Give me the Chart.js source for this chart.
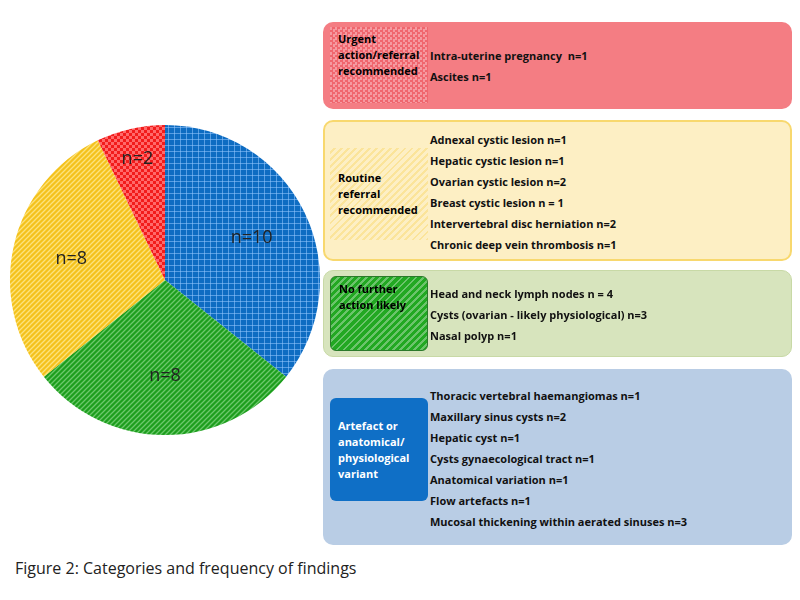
<!DOCTYPE html>
<html>
<head>
<meta charset="utf-8">
<script src="https://cdn.jsdelivr.net/npm/chart.js@4"></script>
<style>
  body { margin: 0; width: 800px; height: 600px; background: #fff; position: relative; font-family: "Open Sans", sans-serif; overflow: hidden; }
  #pieWrap { position: absolute; left: 0; top: 115px; width: 330px; height: 330px; }
  .box { position: absolute; left: 323px; width: 469px; border-radius: 10px; box-sizing: border-box; }
  .lab { position: absolute; left: 7px; width: 98px; box-sizing: border-box; font-size: 11px; font-weight: bold; line-height: 16px; padding: 4px 8px; display: flex; align-items: center; }
  .items { position: absolute; left: 107px; font-size: 11px; font-weight: bold; line-height: 21px; color: #111; }
  #caption { position: absolute; left: 15px; top: 557px; font-size: 16px; color: #222; }
</style>
</head>
<body>
<div id="pieWrap"><canvas id="pieChart" width="330" height="330"></canvas></div>

<div class="box" style="top:22px;height:87px;background:#f47d83;">
  <div class="lab" style="top:5px;height:76px;align-items:flex-start;background:repeating-conic-gradient(#f0666e 0 25%, #f59aa0 0 50%) 0 0/5px 5px;">Urgent action/referral recommended</div>
  <div class="items" style="top:23px;">Intra-uterine pregnancy&nbsp; n=1<br>Ascites n=1</div>
</div>

<div class="box" style="top:120px;height:141px;background:#fdefc4;border:2px solid #f8d86e;">
  <div class="lab" style="top:26px;height:92px;left:5px;background:repeating-linear-gradient(-45deg,#fbe49a 0 2px,#fdefc4 2px 5px);">Routine referral recommended</div>
  <div class="items" style="top:7px;left:105px;">Adnexal cystic lesion n=1<br>Hepatic cystic lesion n=1<br>Ovarian cystic lesion n=2<br>Breast cystic lesion n = 1<br>Intervertebral disc herniation n=2<br>Chronic deep vein thrombosis n=1</div>
</div>

<div class="box" style="top:270px;height:87px;background:#d7e4bd;border:1px solid #c8d9a6;">
  <div class="lab" style="top:5px;height:75px;left:6px;border:1px solid #2b7a2b;border-radius:6px;align-items:flex-start;background:repeating-linear-gradient(-45deg,#22a822 0 3px,#6cc46c 3px 5px);">No further action likely</div>
  <div class="items" style="top:12px;left:106px;">Head and neck lymph nodes n = 4<br>Cysts (ovarian - likely physiological) n=3<br>Nasal polyp n=1</div>
</div>

<div class="box" style="top:369px;height:176px;background:#b9cde5;">
  <div class="lab" style="top:29px;height:103px;background:#0f6fc6;color:#fff;border-radius:6px;">Artefact or anatomical/ physiological variant</div>
  <div class="items" style="top:16px;">Thoracic vertebral haemangiomas n=1<br>Maxillary sinus cysts n=2<br>Hepatic cyst n=1<br>Cysts gynaecological tract n=1<br>Anatomical variation n=1<br>Flow artefacts n=1<br>Mucosal thickening within aerated sinuses n=3</div>
</div>

<div id="caption">Figure 2: Categories and frequency of findings</div>

<script>
// Pie data
const categories = ['Artefact or anatomical/physiological variant', 'No further action likely', 'Routine referral recommended', 'Urgent action/referral recommended'];
const counts = [10, 8, 8, 2];
const sliceLabels = ['n=10', 'n=8', 'n=8', 'n=2'];

function makePattern(kind) {
    const c = document.createElement('canvas');
    const ctx = c.getContext('2d');
    if (kind === 'grid') {
        c.width = c.height = 6;
        ctx.fillStyle = '#0e6cc2'; ctx.fillRect(0, 0, 6, 6);
        ctx.fillStyle = 'rgba(150,200,255,0.55)';
        ctx.fillRect(0, 0, 6, 1); ctx.fillRect(0, 0, 1, 6);
    } else if (kind === 'checker') {
        c.width = c.height = 6;
        ctx.fillStyle = '#f21c1c'; ctx.fillRect(0, 0, 6, 6);
        ctx.fillStyle = '#ff6a6a';
        ctx.fillRect(0, 0, 3, 3); ctx.fillRect(3, 3, 3, 3);
    } else {
        const base = kind === 'green' ? '#1d9e1d' : '#f4c21c';
        const line = kind === 'green' ? '#6cc86c' : '#fde27c';
        c.width = c.height = 5;
        ctx.fillStyle = base; ctx.fillRect(0, 0, 5, 5);
        ctx.strokeStyle = line; ctx.lineWidth = 1.3;
        ctx.beginPath();
        ctx.moveTo(0, 5); ctx.lineTo(5, 0);
        ctx.moveTo(-1, 1); ctx.lineTo(1, -1);
        ctx.moveTo(4, 6); ctx.lineTo(6, 4);
        ctx.stroke();
    }
    return ctx.createPattern(c, 'repeat');
}

const sliceText = {
    id: 'sliceText',
    afterDatasetsDraw(chart) {
        const ctx = chart.ctx;
        const meta = chart.getDatasetMeta(0);
        ctx.save();
        ctx.font = '18px "Open Sans", sans-serif';
        ctx.fillStyle = '#222';
        ctx.textAlign = 'center';
        ctx.textBaseline = 'middle';
        meta.data.forEach((arc, i) => {
            const mid = (arc.startAngle + arc.endAngle) / 2;
            const r = arc.outerRadius * (i === 3 ? 0.8 : 0.62);
            ctx.fillText(sliceLabels[i], arc.x + Math.cos(mid) * r, arc.y + Math.sin(mid) * r);
        });
        ctx.restore();
    }
};

const pieChart = new Chart(document.getElementById('pieChart'), {
    type: 'pie',
    data: {
        labels: categories,
        datasets: [{
            data: counts,
            backgroundColor: [makePattern('grid'), makePattern('green'), makePattern('yellow'), makePattern('checker')],
            borderWidth: 0,
        }],
    },
    options: {
        responsive: false,
        animation: false,
        layout: { padding: 10 },
        plugins: { legend: { display: false }, tooltip: { enabled: false } },
    },
    plugins: [sliceText],
});
</script>
</body>
</html>
